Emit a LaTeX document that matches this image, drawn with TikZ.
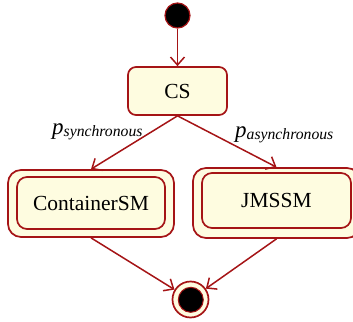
\documentclass[tikz,border=0pt]{standalone}
\usepackage{fontspec}
\setmainfont{Liberation Serif}
\usetikzlibrary{arrows.meta}
\definecolor{umlred}{RGB}{165,20,22}
\definecolor{umlfill}{RGB}{254,252,224}
\tikzset{
  statebox/.style={draw=umlred, fill=umlfill, line width=1.7pt, inner sep=0pt,
    font=\fontsize{21.5}{24}\selectfont},
  flow/.style={draw=umlred, line width=1.5pt,
    -{Straight Barb[length=8pt,width=14pt,line width=1.5pt]}},
  guard/.style={inner sep=0pt, text=black},
}
\newcommand{\guardlabel}[2]{{\fontsize{23}{26}\selectfont\itshape #1}\raisebox{-2pt}{\fontsize{15.7}{18}\selectfont\itshape #2}}
\begin{document}
\begin{tikzpicture}[x=1pt,y=-1pt]
  \useasboundingbox (0,0) rectangle (353,321);
  % initial pseudo-state
  \node[circle, draw=umlred, fill=black, line width=1.2pt, minimum size=25pt, inner sep=0pt] (init) at (177.5,15.5) {};
  % composite state CS
  \node[statebox, rounded corners=8pt, minimum width=99pt, minimum height=48pt] (cs) at (177.5,91) {CS};
  % submachine states: outer frame plus inner frame
  \node[statebox, rounded corners=13pt, minimum width=166pt, minimum height=67pt] (csm) at (91,203.5) {};
  \node[statebox, rounded corners=10pt, minimum width=148pt, minimum height=52pt] (csmin) at (91,203) {ContainerSM};
  \node[statebox, rounded corners=13pt, minimum width=167pt, minimum height=70pt] (jms) at (276.5,203) {};
  \node[statebox, rounded corners=10pt, minimum width=149pt, minimum height=55pt] (jmsin) at (276.5,200.5) {JMSSM};
  % final state
  \node[circle, draw=umlred, fill=umlfill, line width=1.7pt, minimum size=36pt, inner sep=0pt] (fin) at (190.5,299.5) {};
  \node[circle, draw=umlred, fill=black, line width=1pt, minimum size=25pt, inner sep=0pt] (finin) at (190.8,299.8) {};
  % transitions
  \draw[flow] (init) -- (cs.north);
  \coordinate (fork) at (cs.south);
  \draw[flow] (fork) -- (csm.north);
  \draw[flow] (fork) -- (jms.north);
  \draw[flow] (csm.south) -- (fin);
  \draw[flow] (jms.south) -- (fin);
  % guards
  \node[guard, anchor=base west] (g1) at (52,134) {\guardlabel{p}{synchronous}};
  \node[guard, anchor=base west] (g2) at (235,137) {\guardlabel{p}{asynchronous}};
\end{tikzpicture}
\end{document}
